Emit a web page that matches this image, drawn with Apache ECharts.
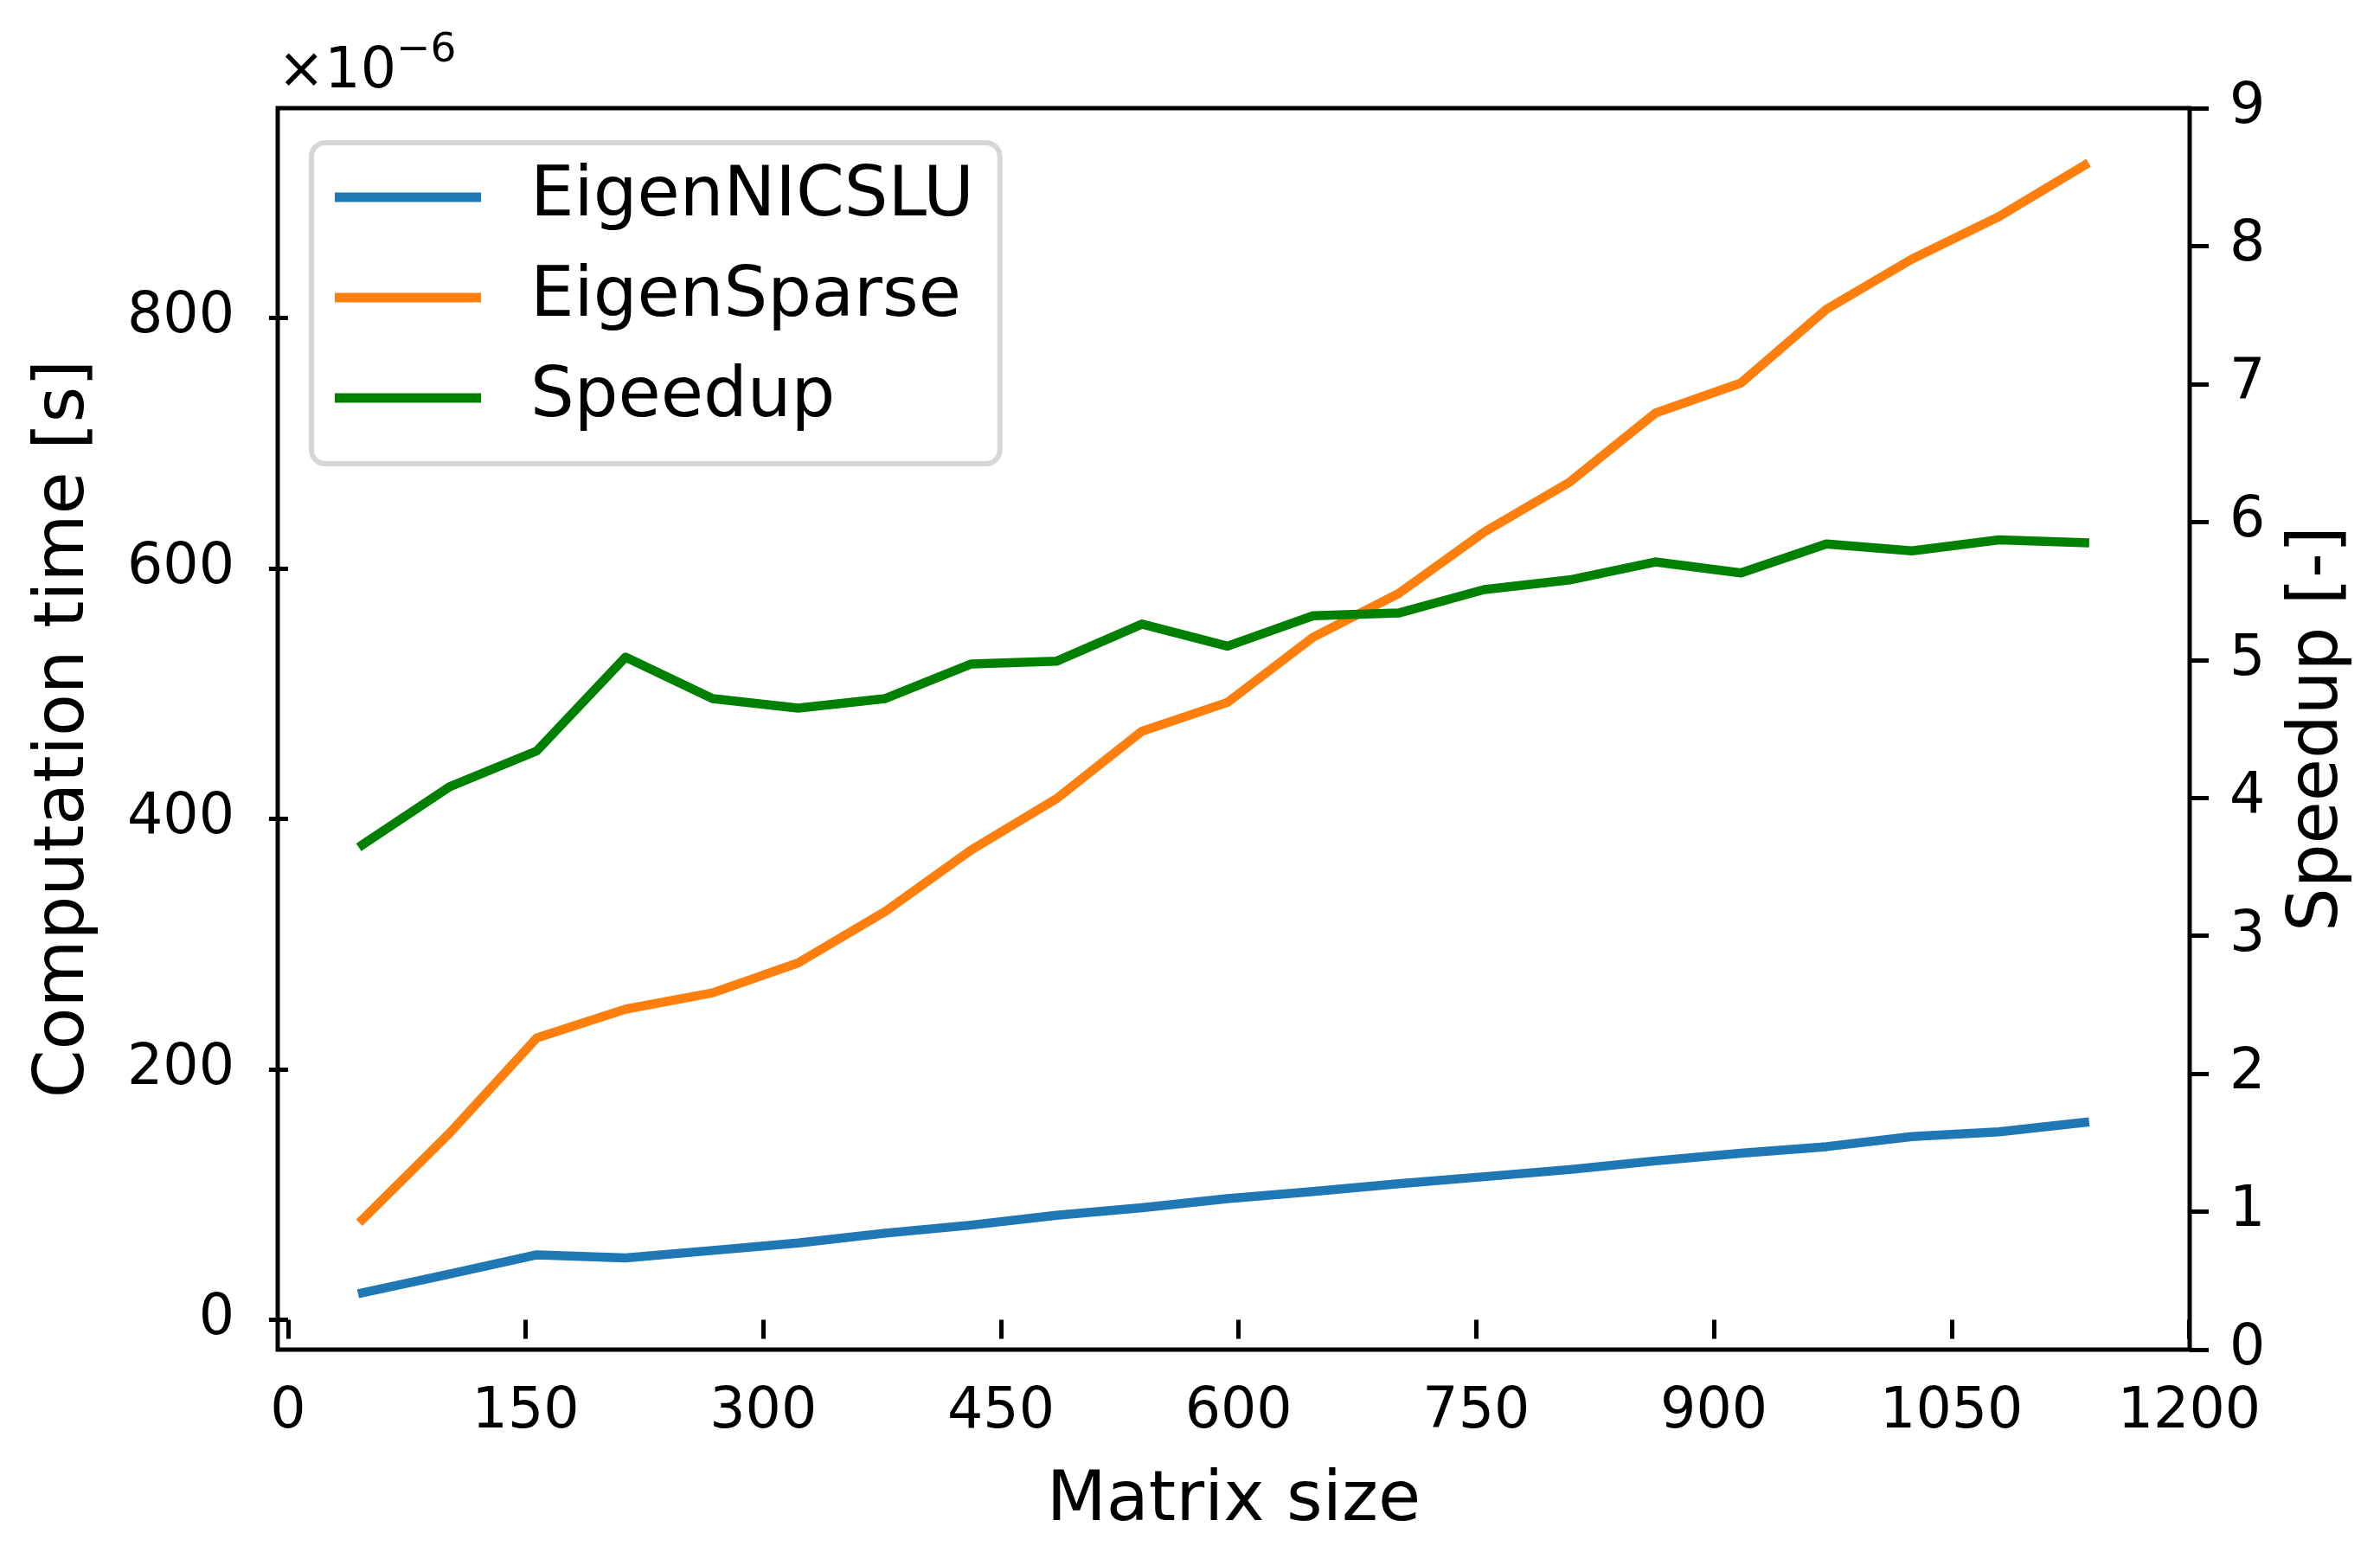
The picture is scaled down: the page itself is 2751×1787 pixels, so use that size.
<!DOCTYPE html>
<html>
<head>
<meta charset="utf-8">
<script src="https://cdn.jsdelivr.net/npm/echarts@6/dist/echarts.min.js"></script>
<style>
  html, body { margin: 0; padding: 0; background: #ffffff; }
  #chart { width: 2751px; height: 1787px; }
</style>
</head>
<body>
<div id="chart"></div>
<script>
// ---- data ----
const matrixSizes = [47, 102, 157, 213, 268, 322, 377, 431, 485, 539, 593, 647, 701, 755, 809, 863, 917, 971, 1025, 1080, 1134];
// computation time in units of 1e-6 s
const eigenNICSLU = [21.5, 36.5, 51.8, 49.4, 55.3, 61.3, 69.1, 75.5, 83.4, 89.4, 96.7, 102.4, 108.6, 114.2, 119.9, 126.8, 132.9, 138.2, 146.3, 150.1, 157.6];
const eigenSparse = [80, 149, 225, 248, 261, 285, 326, 375, 416, 470, 493, 545, 580, 629, 669, 724, 748, 807, 847, 881, 922];
const speedup = [3.66, 4.08, 4.34, 5.02, 4.72, 4.65, 4.72, 4.97, 4.99, 5.26, 5.10, 5.32, 5.34, 5.51, 5.58, 5.71, 5.63, 5.84, 5.79, 5.87, 5.85];
const xTicks = [0, 150, 300, 450, 600, 750, 900, 1050, 1200];
const yLeftTicks = [0, 200, 400, 600, 800];
const seriesNames = ['EigenNICSLU', 'EigenSparse', 'Speedup'];
const seriesColors = ['#1f77b4', '#ff7f0e', '#008000'];

const FONT = 'DejaVu Sans';
const pairs = (ys) => matrixSizes.map((x, i) => [x, ys[i]]);
const plain = (v) => String(v);

const chart = echarts.init(document.getElementById('chart'), null, { renderer: 'canvas' });

const lineSeries = (name, ys, color, yIndex) => ({
  name: name,
  type: 'line',
  xAxisIndex: 0,
  yAxisIndex: yIndex,
  data: pairs(ys),
  showSymbol: false,
  symbol: 'none',
  color: color,
  lineStyle: { color: color, width: 10.5, cap: 'square', join: 'round' },
  emphasis: { disabled: true },
  animation: false
});

const LEFT_MIN = -23.9, LEFT_MAX = 967.6;
const TICK_FS = 65, LABEL_FS = 80;

chart.setOption({
  animation: false,
  backgroundColor: '#ffffff',
  textStyle: { fontFamily: FONT, color: '#000' },
  grid: {
    left: 321, right: 220, top: 125, bottom: 227,
    show: true, borderColor: '#000', borderWidth: 5, backgroundColor: 'transparent',
    containLabel: false
  },
  legend: {
    orient: 'vertical',
    left: 360, top: 165,
    padding: [15, 30, 28, 27],
    itemWidth: 169, itemHeight: 11, itemGap: 20,
    icon: 'rect',
    borderColor: '#d6d6d6', borderWidth: 6, borderRadius: 16,
    backgroundColor: '#ffffff',
    selectedMode: false,
    data: seriesNames,
    textStyle: { fontFamily: FONT, fontSize: LABEL_FS, lineHeight: 96, color: '#000', padding: [0, 0, 0, 52] }
  },
  xAxis: [{
    type: 'value',
    min: -6.5, max: 1200.3,
    position: 'bottom',
    name: 'Matrix size',
    nameLocation: 'middle',
    nameGap: 136,
    nameTextStyle: { fontFamily: FONT, fontSize: LABEL_FS, lineHeight: 80, color: '#000' },
    axisLine: { show: false },
    axisTick: { show: true, inside: false, length: 22, lineStyle: { color: '#000', width: 5 }, customValues: xTicks },
    axisLabel: { show: true, margin: 41, fontFamily: FONT, fontSize: TICK_FS, lineHeight: 65, color: '#000', customValues: xTicks, formatter: plain },
    splitLine: { show: false }
  }],
  yAxis: [{
    type: 'value',
    min: LEFT_MIN, max: LEFT_MAX,
    position: 'left',
    name: '{base|×10}{sup|−6}',
    nameLocation: 'end',
    nameGap: 8,
    nameTextStyle: {
      align: 'left', verticalAlign: 'bottom', padding: [0, 0, 0, -12],
      rich: {
        base: { fontFamily: FONT, fontSize: TICK_FS, lineHeight: 82, verticalAlign: 'bottom', color: '#000' },
        sup: { fontFamily: FONT, fontSize: 47, lineHeight: 47, verticalAlign: 'top', color: '#000' }
      }
    },
    axisLine: { show: false },
    axisTick: { show: true, inside: false, length: 22, lineStyle: { color: '#000', width: 5 }, customValues: yLeftTicks },
    axisLabel: { show: true, margin: 50, fontFamily: FONT, fontSize: TICK_FS, color: '#000', customValues: yLeftTicks, formatter: plain },
    splitLine: { show: false }
  }, {
    type: 'value',
    min: 0, max: 9, interval: 1,
    position: 'right',
    name: 'Speedup [-]',
    nameLocation: 'middle',
    nameRotate: 90,
    nameGap: 109,
    nameTextStyle: { fontFamily: FONT, fontSize: LABEL_FS, lineHeight: 80, color: '#000' },
    axisLine: { show: false },
    axisTick: { show: true, inside: false, length: 22, lineStyle: { color: '#000', width: 5 } },
    axisLabel: { show: true, margin: 46, fontFamily: FONT, fontSize: TICK_FS, color: '#000', formatter: plain },
    splitLine: { show: false }
  }, {
    // carries the left axis title (the first left axis holds the ×10⁻⁶ offset text)
    type: 'value',
    min: LEFT_MIN, max: LEFT_MAX,
    position: 'left',
    name: 'Computation time [s]',
    nameLocation: 'middle',
    nameRotate: 90,
    nameGap: 206,
    nameTextStyle: { fontFamily: FONT, fontSize: LABEL_FS, lineHeight: 80, color: '#000' },
    axisLine: { show: false },
    axisTick: { show: false },
    axisLabel: { show: false },
    splitLine: { show: false }
  }],
  series: [
    lineSeries(seriesNames[0], eigenNICSLU, seriesColors[0], 0),
    lineSeries(seriesNames[1], eigenSparse, seriesColors[1], 0),
    lineSeries(seriesNames[2], speedup, seriesColors[2], 1)
  ]
});
</script>
</body>
</html>
